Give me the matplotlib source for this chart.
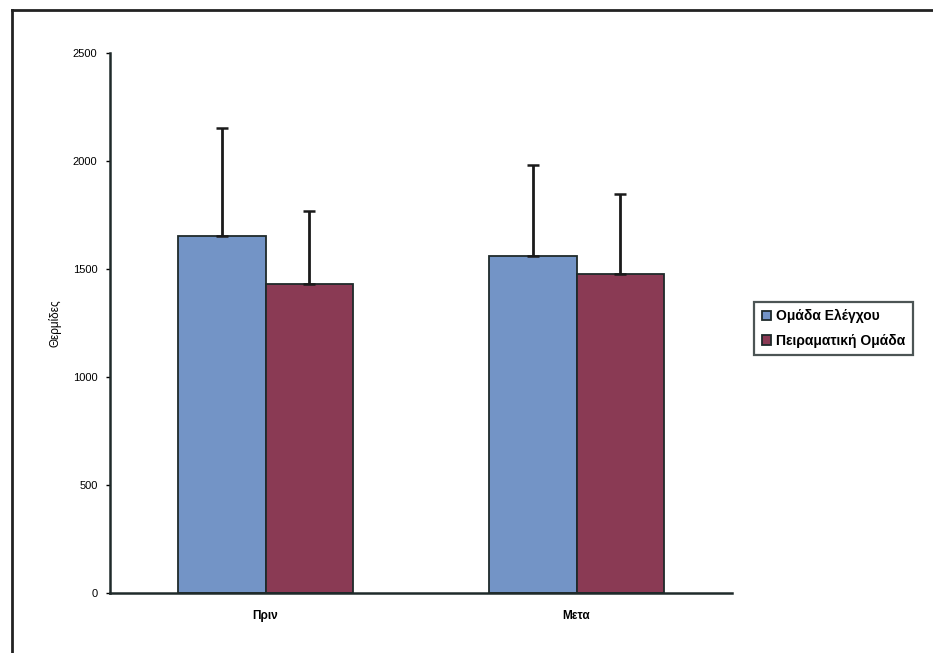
import matplotlib
matplotlib.use("Agg")
import numpy as np
from matplotlib import pyplot as plt
from matplotlib.lines import Line2D

plt.rcParams['font.family'] = ['Liberation Sans', 'DejaVu Sans']

categories = ["Πριν", "Μετα"]
control_mean = [1655, 1560]
control_sd = [500, 420]
exper_mean = [1430, 1475]
exper_sd = [340, 370]
series_names = ["Ομάδα Ελέγχου", "Πειραματική Ομάδα"]
yticks = [0, 500, 1000, 1500, 2000, 2500]

fig = plt.figure(figsize=(9.33, 6.53), dpi=100)
ax = fig.add_axes([0.1179, 0.0919, 0.6667, 0.8269])

pos = np.arange(len(categories))
w = 0.28
err_kw = dict(ecolor="#1a1a1a", elinewidth=2.0, capsize=4.5, capthick=1.8)
ax.bar(pos - w / 2, control_mean, w, color="#7394c6", edgecolor="#1f2a2a", linewidth=1.3,
       yerr=[[0, 0], control_sd], error_kw=err_kw, label=series_names[0])
ax.bar(pos + w / 2, exper_mean, w, color="#8a3a54", edgecolor="#1f2a2a", linewidth=1.3,
       yerr=[[0, 0], exper_sd], error_kw=err_kw, label=series_names[1])

ax.set_xlim(-0.5, 1.5)
ax.set_ylim(0, 2500)
ax.set_yticks(yticks)
ax.set_yticklabels([str(t) for t in yticks], fontsize=8)
ax.set_xticks(pos)
ax.set_xticklabels(categories, fontsize=8.5, fontweight="bold")
ax.tick_params(axis="x", length=0, pad=12)
ax.tick_params(axis="y", length=3, width=1, pad=6)
for s in ["top", "right"]:
    ax.spines[s].set_visible(False)
for s in ["left", "bottom"]:
    ax.spines[s].set_linewidth(1.8)
    ax.spines[s].set_color("#1f2a2a")
ax.set_ylabel("Θερμίδες", fontsize=8.5, labelpad=8)

leg = ax.legend(loc="center left", bbox_to_anchor=(1.024, 0.49), fontsize=10, frameon=True,
                fancybox=False, edgecolor="#1f2a2a", handlelength=0.7, handleheight=0.7,
                handletextpad=0.35, borderpad=0.55, labelspacing=0.75)
leg.get_frame().set_linewidth(1.6)
for t in leg.get_texts():
    t.set_fontweight("bold")

# outer frame (top and left edges visible)
fig.add_artist(Line2D([0.013, 0.013], [0.0, 0.985], transform=fig.transFigure, color="#222", lw=2))
fig.add_artist(Line2D([0.013, 1.0], [0.985, 0.985], transform=fig.transFigure, color="#222", lw=2))

fig.savefig("out.png", dpi=100)
